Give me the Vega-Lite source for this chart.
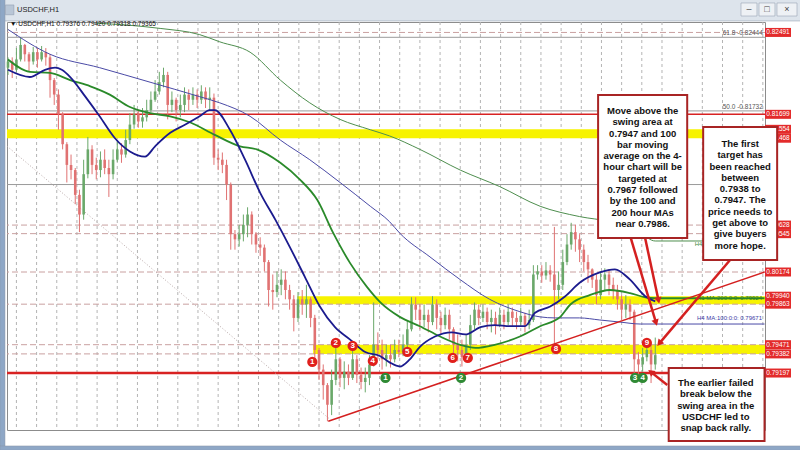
{
"$schema":"https://vega.github.io/schema/vega-lite/v6.json",
"width":758,"height":408,
"autosize":{"type":"none"},
"padding":{"left":7,"top":22,"right":35,"bottom":20},
"background":"white",
"config":{"view":{"stroke":"#8c8c8c","strokeWidth":1},"font":"Liberation Sans"},
"datasets":{
"candles":[
{"t":0,"o":0.8215,"h":0.8225,"l":0.8208,"c":0.8221},{"t":5,"o":0.8221,"h":0.8225,"l":0.8205,"c":0.8213},{"t":10,"o":0.8213,"h":0.8234,"l":0.8211,"c":0.8223},{"t":15,"o":0.8223,"h":0.8244,"l":0.8221,"c":0.8237},{"t":20,"o":0.8237,"h":0.8238,"l":0.8221,"c":0.8228},{"t":25,"o":0.8228,"h":0.823,"l":0.8211,"c":0.8221},{"t":30,"o":0.8221,"h":0.8235,"l":0.8218,"c":0.823},{"t":35,"o":0.823,"h":0.8234,"l":0.8215,"c":0.8223},{"t":40,"o":0.8223,"h":0.8236,"l":0.8221,"c":0.823},{"t":45,"o":0.823,"h":0.8234,"l":0.8217,"c":0.8225},
{"t":50,"o":0.8225,"h":0.8228,"l":0.8186,"c":0.8203},{"t":55,"o":0.8203,"h":0.8205,"l":0.8179,"c":0.8189},{"t":60,"o":0.8189,"h":0.8194,"l":0.8155,"c":0.817},{"t":65,"o":0.817,"h":0.8172,"l":0.8136,"c":0.8141},{"t":70,"o":0.8141,"h":0.8143,"l":0.8104,"c":0.8121},{"t":75,"o":0.8121,"h":0.8131,"l":0.8107,"c":0.8116},{"t":80,"o":0.8116,"h":0.8118,"l":0.8083,"c":0.8092},{"t":85,"o":0.8092,"h":0.8097,"l":0.8056,"c":0.8073},{"t":90,"o":0.8073,"h":0.8126,"l":0.8068,"c":0.8112},{"t":95,"o":0.8112,"h":0.8148,"l":0.8108,"c":0.8136},
{"t":100,"o":0.8136,"h":0.814,"l":0.8112,"c":0.8121},{"t":105,"o":0.8121,"h":0.8128,"l":0.8107,"c":0.8116},{"t":110,"o":0.8116,"h":0.8134,"l":0.8109,"c":0.8126},{"t":115,"o":0.8126,"h":0.8136,"l":0.8112,"c":0.8118},{"t":120,"o":0.8118,"h":0.8126,"l":0.809,"c":0.8112},{"t":125,"o":0.8112,"h":0.8136,"l":0.8107,"c":0.8126},{"t":130,"o":0.8126,"h":0.8145,"l":0.8124,"c":0.8136},{"t":135,"o":0.8136,"h":0.8142,"l":0.8123,"c":0.8131},{"t":140,"o":0.8131,"h":0.8155,"l":0.8128,"c":0.8145},{"t":145,"o":0.8145,"h":0.8171,"l":0.8141,"c":0.816},
{"t":150,"o":0.816,"h":0.8179,"l":0.8156,"c":0.817},{"t":155,"o":0.817,"h":0.8174,"l":0.8157,"c":0.8163},{"t":160,"o":0.8163,"h":0.8176,"l":0.8157,"c":0.8167},{"t":165,"o":0.8167,"h":0.8184,"l":0.8163,"c":0.8174},{"t":170,"o":0.8174,"h":0.8192,"l":0.8172,"c":0.8184},{"t":175,"o":0.8184,"h":0.8203,"l":0.8182,"c":0.8192},{"t":180,"o":0.8192,"h":0.8211,"l":0.8189,"c":0.8201},{"t":185,"o":0.8201,"h":0.8215,"l":0.8196,"c":0.8208},{"t":190,"o":0.8208,"h":0.8211,"l":0.8165,"c":0.8179},{"t":195,"o":0.8179,"h":0.8192,"l":0.8172,"c":0.8184},
{"t":200,"o":0.8184,"h":0.8186,"l":0.8163,"c":0.8174},{"t":205,"o":0.8174,"h":0.8189,"l":0.8167,"c":0.8179},{"t":210,"o":0.8179,"h":0.8196,"l":0.8172,"c":0.8189},{"t":215,"o":0.8189,"h":0.8194,"l":0.8174,"c":0.8184},{"t":220,"o":0.8184,"h":0.8196,"l":0.8179,"c":0.8189},{"t":225,"o":0.8189,"h":0.8194,"l":0.8176,"c":0.8184},{"t":230,"o":0.8184,"h":0.8198,"l":0.818,"c":0.8192},{"t":235,"o":0.8192,"h":0.8196,"l":0.8176,"c":0.8184},{"t":240,"o":0.8184,"h":0.8196,"l":0.8174,"c":0.8186},{"t":245,"o":0.8186,"h":0.819,"l":0.8121,"c":0.8128},
{"t":250,"o":0.8128,"h":0.8136,"l":0.8116,"c":0.8126},{"t":255,"o":0.8126,"h":0.8133,"l":0.8113,"c":0.8121},{"t":260,"o":0.8121,"h":0.8126,"l":0.8087,"c":0.8102},{"t":265,"o":0.8102,"h":0.8104,"l":0.8039,"c":0.8054},{"t":270,"o":0.8054,"h":0.8058,"l":0.8039,"c":0.8049},{"t":275,"o":0.8049,"h":0.8063,"l":0.8042,"c":0.8054},{"t":280,"o":0.8054,"h":0.8073,"l":0.8047,"c":0.8063},{"t":285,"o":0.8063,"h":0.808,"l":0.8051,"c":0.8073},{"t":290,"o":0.8073,"h":0.8076,"l":0.8044,"c":0.8054},{"t":295,"o":0.8054,"h":0.8056,"l":0.8036,"c":0.8044},
{"t":300,"o":0.8044,"h":0.8051,"l":0.8033,"c":0.8041},{"t":305,"o":0.8041,"h":0.8044,"l":0.8018,"c":0.8027},{"t":310,"o":0.8027,"h":0.8029,"l":0.7984,"c":0.8},{"t":315,"o":0.8,"h":0.8015,"l":0.7981,"c":0.7998},{"t":320,"o":0.7998,"h":0.8018,"l":0.7993,"c":0.8005},{"t":325,"o":0.8005,"h":0.802,"l":0.7995,"c":0.801},{"t":330,"o":0.801,"h":0.8018,"l":0.7991,"c":0.8},{"t":335,"o":0.8,"h":0.8005,"l":0.7981,"c":0.7991},{"t":340,"o":0.7991,"h":0.7995,"l":0.796,"c":0.7973},{"t":345,"o":0.7973,"h":0.7998,"l":0.7969,"c":0.7991},
{"t":350,"o":0.7991,"h":0.8,"l":0.7976,"c":0.7986},{"t":355,"o":0.7986,"h":0.8005,"l":0.7973,"c":0.7991},{"t":360,"o":0.7991,"h":0.7993,"l":0.7964,"c":0.7973},{"t":365,"o":0.7973,"h":0.7976,"l":0.7933,"c":0.7942},{"t":370,"o":0.7942,"h":0.7944,"l":0.7913,"c":0.7923},{"t":375,"o":0.7923,"h":0.7928,"l":0.7894,"c":0.7908},{"t":380,"o":0.7908,"h":0.791,"l":0.7873,"c":0.7889},{"t":385,"o":0.7889,"h":0.7923,"l":0.7879,"c":0.7913},{"t":390,"o":0.7913,"h":0.7949,"l":0.7908,"c":0.7933},{"t":395,"o":0.7933,"h":0.7935,"l":0.7906,"c":0.7915},
{"t":400,"o":0.7915,"h":0.7931,"l":0.7904,"c":0.7921},{"t":405,"o":0.7921,"h":0.7928,"l":0.7908,"c":0.7915},{"t":410,"o":0.7915,"h":0.7949,"l":0.7913,"c":0.7933},{"t":415,"o":0.7933,"h":0.7937,"l":0.791,"c":0.7918},{"t":420,"o":0.7918,"h":0.7925,"l":0.7904,"c":0.7911},{"t":425,"o":0.7911,"h":0.7925,"l":0.7901,"c":0.7915},{"t":430,"o":0.7915,"h":0.7937,"l":0.7908,"c":0.7928},{"t":435,"o":0.7928,"h":0.7988,"l":0.7926,"c":0.7947},{"t":440,"o":0.7947,"h":0.7959,"l":0.7933,"c":0.7942},{"t":445,"o":0.7942,"h":0.7952,"l":0.7923,"c":0.7933},
{"t":450,"o":0.7933,"h":0.7947,"l":0.7926,"c":0.7937},{"t":455,"o":0.7937,"h":0.7947,"l":0.7925,"c":0.7933},{"t":460,"o":0.7933,"h":0.7952,"l":0.793,"c":0.7942},{"t":465,"o":0.7942,"h":0.7952,"l":0.7935,"c":0.794},{"t":470,"o":0.794,"h":0.7957,"l":0.7936,"c":0.7947},{"t":475,"o":0.7947,"h":0.7971,"l":0.794,"c":0.7962},{"t":480,"o":0.7962,"h":0.7993,"l":0.796,"c":0.7986},{"t":485,"o":0.7986,"h":0.7993,"l":0.7971,"c":0.7981},{"t":490,"o":0.7981,"h":0.7986,"l":0.7962,"c":0.7971},{"t":495,"o":0.7971,"h":0.7986,"l":0.7964,"c":0.7976},
{"t":500,"o":0.7976,"h":0.7981,"l":0.7959,"c":0.7969},{"t":505,"o":0.7969,"h":0.7994,"l":0.7966,"c":0.7986},{"t":510,"o":0.7986,"h":0.7991,"l":0.7962,"c":0.7973},{"t":515,"o":0.7973,"h":0.7979,"l":0.7957,"c":0.7966},{"t":520,"o":0.7966,"h":0.7983,"l":0.7962,"c":0.7976},{"t":525,"o":0.7976,"h":0.7981,"l":0.7952,"c":0.7962},{"t":530,"o":0.7962,"h":0.7964,"l":0.7937,"c":0.7947},{"t":535,"o":0.7947,"h":0.7957,"l":0.7931,"c":0.7942},{"t":540,"o":0.7942,"h":0.7952,"l":0.7926,"c":0.7935},{"t":545,"o":0.7935,"h":0.7957,"l":0.7931,"c":0.7947},
{"t":550,"o":0.7947,"h":0.7976,"l":0.7942,"c":0.7966},{"t":555,"o":0.7966,"h":0.7988,"l":0.7962,"c":0.7981},{"t":560,"o":0.7981,"h":0.7986,"l":0.7966,"c":0.7973},{"t":565,"o":0.7973,"h":0.7986,"l":0.7969,"c":0.7979},{"t":570,"o":0.7979,"h":0.7983,"l":0.7962,"c":0.7969},{"t":575,"o":0.7969,"h":0.7981,"l":0.7959,"c":0.7973},{"t":580,"o":0.7973,"h":0.7979,"l":0.7957,"c":0.7966},{"t":585,"o":0.7966,"h":0.7983,"l":0.7964,"c":0.7976},{"t":590,"o":0.7976,"h":0.7981,"l":0.7962,"c":0.7969},{"t":595,"o":0.7969,"h":0.7986,"l":0.7966,"c":0.7979},
{"t":600,"o":0.7979,"h":0.7983,"l":0.7965,"c":0.7973},{"t":605,"o":0.7973,"h":0.7979,"l":0.7962,"c":0.7969},{"t":610,"o":0.7969,"h":0.7983,"l":0.7965,"c":0.7975},{"t":615,"o":0.7975,"h":0.7978,"l":0.7959,"c":0.7966},{"t":620,"o":0.7966,"h":0.7981,"l":0.7962,"c":0.7971},{"t":625,"o":0.7971,"h":0.8024,"l":0.7969,"c":0.8015},{"t":630,"o":0.8015,"h":0.8024,"l":0.801,"c":0.8018},{"t":635,"o":0.8018,"h":0.8024,"l":0.8007,"c":0.8014},{"t":640,"o":0.8014,"h":0.8027,"l":0.801,"c":0.8019},{"t":645,"o":0.8019,"h":0.8024,"l":0.8008,"c":0.8015},
{"t":650,"o":0.8015,"h":0.8061,"l":0.7942,"c":0.8},{"t":655,"o":0.8,"h":0.8018,"l":0.7991,"c":0.8005},{"t":660,"o":0.8005,"h":0.8039,"l":0.8,"c":0.8027},{"t":665,"o":0.8027,"h":0.8054,"l":0.8024,"c":0.8044},{"t":670,"o":0.8044,"h":0.8065,"l":0.8039,"c":0.8056},{"t":675,"o":0.8056,"h":0.8063,"l":0.8037,"c":0.8049},{"t":680,"o":0.8049,"h":0.8054,"l":0.8027,"c":0.8039},{"t":685,"o":0.8039,"h":0.8044,"l":0.8018,"c":0.8027},{"t":690,"o":0.8027,"h":0.8034,"l":0.8007,"c":0.802},{"t":695,"o":0.802,"h":0.8021,"l":0.8002,"c":0.801},
{"t":700,"o":0.801,"h":0.8015,"l":0.7986,"c":0.7995},{"t":705,"o":0.7995,"h":0.8018,"l":0.7991,"c":0.801},{"t":710,"o":0.801,"h":0.8021,"l":0.8,"c":0.8015},{"t":715,"o":0.8015,"h":0.802,"l":0.7995,"c":0.8005},{"t":720,"o":0.8005,"h":0.8012,"l":0.7991,"c":0.8},{"t":725,"o":0.8,"h":0.8005,"l":0.7981,"c":0.7991},{"t":730,"o":0.7991,"h":0.7995,"l":0.7971,"c":0.7981},{"t":735,"o":0.7981,"h":0.7995,"l":0.7973,"c":0.7986},{"t":740,"o":0.7986,"h":0.7991,"l":0.7971,"c":0.7979},{"t":745,"o":0.7979,"h":0.7981,"l":0.7918,"c":0.7933},
{"t":750,"o":0.7933,"h":0.794,"l":0.7918,"c":0.7928},{"t":755,"o":0.7928,"h":0.7944,"l":0.7921,"c":0.7935},{"t":760,"o":0.7935,"h":0.7952,"l":0.7931,"c":0.7942},{"t":765,"o":0.7942,"h":0.7947,"l":0.791,"c":0.7928},{"t":770,"o":0.7928,"h":0.7954,"l":0.7923,"c":0.7937}
],
"ma":[
{"s":"h1_100","t":0,"p":0.8213},{"s":"h1_100","t":26,"p":0.8206},{"s":"h1_100","t":44,"p":0.8213},{"s":"h1_100","t":56,"p":0.8215},{"s":"h1_100","t":64,"p":0.8213},{"s":"h1_100","t":74,"p":0.8206},{"s":"h1_100","t":92,"p":0.8187},{"s":"h1_100","t":109,"p":0.8168},{"s":"h1_100","t":127,"p":0.8147},{"s":"h1_100","t":145,"p":0.8134},{"s":"h1_100","t":163,"p":0.8129},{"s":"h1_100","t":175,"p":0.8139},{"s":"h1_100","t":193,"p":0.8152},{"s":"h1_100","t":211,"p":0.816},{"s":"h1_100","t":228,"p":0.8168},{"s":"h1_100","t":240,"p":0.8174},{"s":"h1_100","t":246,"p":0.8174},{"s":"h1_100","t":264,"p":0.8155},{"s":"h1_100","t":282,"p":0.8126},{"s":"h1_100","t":300,"p":0.8094},{"s":"h1_100","t":318,"p":0.8068},{"s":"h1_100","t":335,"p":0.8042},{"s":"h1_100","t":353,"p":0.8013},{"s":"h1_100","t":371,"p":0.7984},{"s":"h1_100","t":389,"p":0.7964},{"s":"h1_100","t":407,"p":0.7952},{"s":"h1_100","t":425,"p":0.794},{"s":"h1_100","t":443,"p":0.7936},{"s":"h1_100","t":454,"p":0.793},{"s":"h1_100","t":466,"p":0.7926},{"s":"h1_100","t":478,"p":0.7933},{"s":"h1_100","t":490,"p":0.7945},{"s":"h1_100","t":508,"p":0.7955},{"s":"h1_100","t":528,"p":0.7959},{"s":"h1_100","t":544,"p":0.7957},{"s":"h1_100","t":562,"p":0.7964},{"s":"h1_100","t":579,"p":0.7966},{"s":"h1_100","t":597,"p":0.7965},{"s":"h1_100","t":615,"p":0.7965},{"s":"h1_100","t":627,"p":0.7978},{"s":"h1_100","t":645,"p":0.7984},{"s":"h1_100","t":663,"p":0.7994},{"s":"h1_100","t":680,"p":0.8007},{"s":"h1_100","t":704,"p":0.8017},{"s":"h1_100","t":722,"p":0.802},{"s":"h1_100","t":740,"p":0.801},{"s":"h1_100","t":758,"p":0.7994},{"s":"h1_100","t":770,"p":0.7989},
{"s":"h1_200","t":0,"p":0.8223},{"s":"h1_200","t":26,"p":0.8211},{"s":"h1_200","t":50,"p":0.821},{"s":"h1_200","t":74,"p":0.8203},{"s":"h1_200","t":98,"p":0.8197},{"s":"h1_200","t":121,"p":0.8189},{"s":"h1_200","t":145,"p":0.8177},{"s":"h1_200","t":169,"p":0.8171},{"s":"h1_200","t":193,"p":0.8168},{"s":"h1_200","t":217,"p":0.8162},{"s":"h1_200","t":246,"p":0.815},{"s":"h1_200","t":276,"p":0.8139},{"s":"h1_200","t":296,"p":0.8136},{"s":"h1_200","t":324,"p":0.8123},{"s":"h1_200","t":347,"p":0.8107},{"s":"h1_200","t":368,"p":0.8087},{"s":"h1_200","t":387,"p":0.8055},{"s":"h1_200","t":407,"p":0.8026},{"s":"h1_200","t":427,"p":0.8003},{"s":"h1_200","t":443,"p":0.7988},{"s":"h1_200","t":466,"p":0.7974},{"s":"h1_200","t":490,"p":0.7965},{"s":"h1_200","t":514,"p":0.7955},{"s":"h1_200","t":538,"p":0.7947},{"s":"h1_200","t":556,"p":0.7944},{"s":"h1_200","t":579,"p":0.7947},{"s":"h1_200","t":609,"p":0.7955},{"s":"h1_200","t":633,"p":0.7965},{"s":"h1_200","t":657,"p":0.7974},{"s":"h1_200","t":669,"p":0.7986},{"s":"h1_200","t":692,"p":0.7995},{"s":"h1_200","t":716,"p":0.8},{"s":"h1_200","t":740,"p":0.7997},{"s":"h1_200","t":758,"p":0.7993},{"s":"h1_200","t":770,"p":0.7992},{"s":"h1_200","t":900,"p":0.7992},
{"s":"h4_100","t":0,"p":0.8252},{"s":"h4_100","t":50,"p":0.8228},{"s":"h4_100","t":109,"p":0.8215},{"s":"h4_100","t":169,"p":0.8201},{"s":"h4_100","t":228,"p":0.8187},{"s":"h4_100","t":252,"p":0.8181},{"s":"h4_100","t":288,"p":0.8168},{"s":"h4_100","t":324,"p":0.8145},{"s":"h4_100","t":359,"p":0.8126},{"s":"h4_100","t":395,"p":0.8104},{"s":"h4_100","t":431,"p":0.8081},{"s":"h4_100","t":454,"p":0.8066},{"s":"h4_100","t":466,"p":0.8055},{"s":"h4_100","t":502,"p":0.8032},{"s":"h4_100","t":538,"p":0.801},{"s":"h4_100","t":573,"p":0.7991},{"s":"h4_100","t":609,"p":0.7979},{"s":"h4_100","t":633,"p":0.7974},{"s":"h4_100","t":651,"p":0.7973},{"s":"h4_100","t":680,"p":0.7973},{"s":"h4_100","t":704,"p":0.7971},{"s":"h4_100","t":728,"p":0.7969},{"s":"h4_100","t":752,"p":0.79671},{"s":"h4_100","t":900,"p":0.79671},
{"s":"h4_200","t":105,"p":0.8258},{"s":"h4_200","t":145,"p":0.8256},{"s":"h4_200","t":181,"p":0.8253},{"s":"h4_200","t":228,"p":0.8247},{"s":"h4_200","t":252,"p":0.824},{"s":"h4_200","t":288,"p":0.823},{"s":"h4_200","t":324,"p":0.8203},{"s":"h4_200","t":359,"p":0.8181},{"s":"h4_200","t":395,"p":0.8165},{"s":"h4_200","t":431,"p":0.8155},{"s":"h4_200","t":454,"p":0.8149},{"s":"h4_200","t":490,"p":0.8136},{"s":"h4_200","t":538,"p":0.8116},{"s":"h4_200","t":585,"p":0.81},{"s":"h4_200","t":633,"p":0.8081},{"s":"h4_200","t":680,"p":0.8071},{"s":"h4_200","t":716,"p":0.8066},{"s":"h4_200","t":752,"p":0.8055},{"s":"h4_200","t":770,"p":0.80474},{"s":"h4_200","t":900,"p":0.80474}
],
"grid":[{"t":10},{"t":34},{"t":58},{"t":82},{"t":106},{"t":130},{"t":154},{"t":178},{"t":202},{"t":226},{"t":250},{"t":274},{"t":298},{"t":322},{"t":346},{"t":370},{"t":394},{"t":418},{"t":442},{"t":466},{"t":490},{"t":514},{"t":538},{"t":562},{"t":586},{"t":610},{"t":634},{"t":658},{"t":682},{"t":706},{"t":730},{"t":754},{"t":778},{"t":802},{"t":826},{"t":850},{"t":874},{"t":898}],
"dash":[{"p":0.82491},{"p":0.80628},{"p":0.80545},{"p":0.80174},{"p":0.79863},{"p":0.79471},{"p":0.79382}],
"fib":[{"p":0.82444,"txt":"61.8 -0.82444","lp":0.82486},{"p":0.81732,"txt":"50.0 -0.81732","lp":0.81773},{"p":0.8102}],
"bands":[{"from":-1.19,"lo":0.81468,"hi":0.81554},{"from":344,"lo":0.79863,"hi":0.7994},{"from":363,"lo":0.79382,"hi":0.79471}],
"tags":[{"p":0.82491},{"p":0.81699},{"p":0.81554},{"p":0.81468},{"p":0.80628},{"p":0.80545},{"p":0.80174},{"p":0.7994},{"p":0.79863},{"p":0.79471},{"p":0.79382},{"p":0.79197}],
"markers":[{"g":"r","n":"1","t":362,"p":0.79304},{"g":"r","n":"2","t":390,"p":0.79488},{"g":"r","n":"3","t":410,"p":0.79459},{"g":"r","n":"4","t":434,"p":0.79314},{"g":"r","n":"5","t":475,"p":0.79401},{"g":"r","n":"6","t":529,"p":0.79343},{"g":"r","n":"7","t":547,"p":0.79343},{"g":"r","n":"8","t":652,"p":0.7943},{"g":"r","n":"9","t":760,"p":0.79488},{"g":"g","n":"1","t":449,"p":0.79149},{"g":"g","n":"2","t":539,"p":0.79149},{"g":"g","n":"3","t":746,"p":0.79149},{"g":"g","n":"4","t":755,"p":0.79149}],
"chrome":[{"part":"bar","x1":-9.6,"x2":943,"y1":0.82602,"y2":0.8281},{"part":"edge","x1":-9.6,"x2":-3.6,"y1":0.7845,"y2":0.8281},{"part":"edge","x1":-9.6,"x2":943,"y1":0.7845,"y2":0.78492},{"part":"icon","x1":-3,"x2":7,"y1":0.82662,"y2":0.82757},{"part":"btn","x1":872,"x2":891,"y1":0.8265,"y2":0.82776},{"part":"btn","x1":893.4,"x2":912.4,"y1":0.8265,"y2":0.82776},{"part":"btn","x1":914.8,"x2":938.6,"y1":0.8265,"y2":0.82776}],
"btnglyph":[{"t":881.5,"p":0.82713,"g":"–"},{"t":902.9,"p":0.82713,"g":"□"},{"t":926.7,"p":0.82713,"g":"×"}],
"arrows":[{"t":741,"p":0.805,"t2":770.5,"p2":0.79694},{"t":758,"p":0.805,"t2":773.6,"p2":0.7991},{"t":859,"p":0.8029,"t2":775.6,"p2":0.79491},{"t":784.3,"p":0.79082,"t2":765.7,"p2":0.79201}],
"boxes":[
{"x1":702,"x2":808,"y1":0.81886,"y2":0.80503,"tx":755,"ty":0.8178,"txt":["Move above the","swing area at","0.7947 and 100","bar moving","average on the 4-","hour chart will be","targeted at","0.7967 followed","by the 100 and","200 hour MAs","near 0.7986."]},
{"x1":827,"x2":915,"y1":0.81577,"y2":0.80291,"tx":871,"ty":0.81461,"txt":["The first","target has","been reached","between","0.7938 to","0.7947. The","price needs to","get above to","give buyers","more hope."]},
{"x1":786,"x2":900,"y1":0.79246,"y2":0.7854,"tx":842,"ty":0.79149,"txt":["The earlier failed","break below the","swing area in the","USDCHF led to","snap back rally."]}
]
},
"layer":[
{"data":{"name":"chrome"},"mark":{"type":"rect","strokeWidth":0.5,"stroke":"#8a97a8"},
 "encoding":{"x":{"field":"x1","type":"quantitative","axis":null},"x2":{"field":"x2"},"y":{"field":"y1","type":"quantitative","axis":null},"y2":{"field":"y2"},
 "color":{"field":"part","type":"nominal","legend":null,"scale":{"domain":["bar","edge","icon","btn"],"range":["#dde4ec","#8ea7c6","#b9c6d6","#eef1f5"]}}}},
{"data":{"name":"btnglyph"},"mark":{"type":"text","align":"center","baseline":"middle","fontSize":9,"color":"#444444"},
 "encoding":{"x":{"field":"t","type":"quantitative","axis":null},"y":{"field":"p","type":"quantitative","axis":null},"text":{"field":"g"}}},
{"data":{"values":[{"t":10.7,"p":0.82708,"txt":"USDCHF,H1"}]},"mark":{"type":"text","align":"left","baseline":"middle","fontSize":7.5,"color":"#1e1e1e"},
 "encoding":{"x":{"field":"t","type":"quantitative","axis":null},"y":{"field":"p","type":"quantitative","axis":null},"text":{"field":"txt"}}},
{"data":{"name":"grid"},"mark":{"type":"rule","color":"#b4b4b4","strokeDash":[3,3],"strokeWidth":1},
 "encoding":{"x":{"field":"t","type":"quantitative","scale":{"domain":[-1.19,900.55],"nice":false,"zero":false,"padding":0},
  "axis":{"title":null,"values":[0,64,128,192,256,320,384,448,512,576,640,704,768],"labelExpr":"['9 Jun 2025','12 Jun 06:00','16 Jun 22:00','19 Jun 14:00','24 Jun 06:00','26 Jun 22:00','1 Jul 14:00','4 Jul 06:00','8 Jul 22:00','11 Jul 14:00','16 Jul 06:00','18 Jul 22:00','23 Jul 14:00'][datum.value/64]","labelAlign":"left","labelFontSize":6.5,"labelColor":"#333333","labelPadding":1,"tickSize":3,"tickColor":"#777777","domainColor":"#8c8c8c","grid":false,"labelOverlap":false,"labelFlush":false,"labelBound":false}}}},
{"data":{"name":"bands"},"mark":{"type":"rect","color":"#f7f300"},
 "encoding":{"x":{"field":"from","type":"quantitative","axis":null},"x2":{"datum":900.55},"y":{"field":"lo","type":"quantitative","axis":null},"y2":{"field":"hi"}}},
{"data":{"name":"dash"},"mark":{"type":"rule","color":"#c9a0a0","strokeDash":[6,3],"strokeWidth":1},
 "encoding":{"y":{"field":"p","type":"quantitative","axis":null}}},
{"data":{"name":"fib"},"mark":{"type":"rule","color":"#9a9a9a","strokeWidth":1},
 "encoding":{"y":{"field":"p","type":"quantitative","axis":null}}},
{"data":{"values":[{"p":0.81699}]},"mark":{"type":"rule","color":"#d82222","strokeWidth":1.5},
 "encoding":{"y":{"field":"p","type":"quantitative","axis":null}}},
{"data":{"values":[{"p":0.79197}]},"mark":{"type":"rule","color":"#d82222","strokeWidth":2.5},
 "encoding":{"y":{"field":"p","type":"quantitative","axis":null}}},
{"data":{"values":[{"t":-1,"p":0.8139,"t2":383,"p2":0.7875}]},"mark":{"type":"rule","color":"#b8a8a8","strokeDash":[1,2],"strokeWidth":1},
 "encoding":{"x":{"field":"t","type":"quantitative","axis":null},"y":{"field":"p","type":"quantitative","axis":null},"x2":{"field":"t2"},"y2":{"field":"p2"}}},
{"data":{"name":"candles"},"mark":{"type":"rule","strokeWidth":1},
 "encoding":{"x":{"field":"t","type":"quantitative","axis":null},
  "y":{"field":"l","type":"quantitative","scale":{"domain":[0.78646,0.82592],"nice":false,"zero":false,"padding":0},
   "axis":{"title":null,"orient":"right","values":[0.8247,0.82205,0.8194,0.81675,0.8141,0.81145,0.8088,0.80615,0.8035,0.80085,0.7982,0.79555,0.7929,0.79025,0.7876],"format":".5f","labelFontSize":6.5,"labelColor":"#333333","labelPadding":1,"tickSize":3,"tickColor":"#777777","domainColor":"#8c8c8c","grid":false,"labelOverlap":false,"labelBound":false,"labelFlush":false}},
  "y2":{"field":"h"},
  "color":{"condition":{"test":"datum.c >= datum.o","value":"#6aa86a"},"value":"#e07272"}}},
{"data":{"name":"candles"},"mark":{"type":"bar","size":2.6},
 "encoding":{"x":{"field":"t","type":"quantitative","axis":null},"y":{"field":"o","type":"quantitative","axis":null},"y2":{"field":"c"},
  "color":{"condition":{"test":"datum.c >= datum.o","value":"#6aa86a"},"value":"#e07272"}}},
{"data":{"name":"ma"},"transform":[{"filter":"datum.s == 'h4_200'"}],"mark":{"type":"line","color":"#4e8e4e","strokeWidth":1,"interpolate":"monotone"},
 "encoding":{"x":{"field":"t","type":"quantitative","axis":null},"y":{"field":"p","type":"quantitative","axis":null}}},
{"data":{"name":"ma"},"transform":[{"filter":"datum.s == 'h4_100'"}],"mark":{"type":"line","color":"#4a4aa6","strokeWidth":1,"interpolate":"monotone"},
 "encoding":{"x":{"field":"t","type":"quantitative","axis":null},"y":{"field":"p","type":"quantitative","axis":null}}},
{"data":{"name":"ma"},"transform":[{"filter":"datum.s == 'h1_200'"}],"mark":{"type":"line","color":"#2a8a2a","strokeWidth":1.8,"interpolate":"monotone"},
 "encoding":{"x":{"field":"t","type":"quantitative","axis":null},"y":{"field":"p","type":"quantitative","axis":null}}},
{"data":{"name":"ma"},"transform":[{"filter":"datum.s == 'h1_100'"}],"mark":{"type":"line","color":"#1b1b8e","strokeWidth":1.8,"interpolate":"monotone"},
 "encoding":{"x":{"field":"t","type":"quantitative","axis":null},"y":{"field":"p","type":"quantitative","axis":null}}},
{"data":{"values":[{"t":381,"p":0.7873,"t2":900,"p2":0.80174}]},"mark":{"type":"rule","color":"#d42020","strokeWidth":1.5},
 "encoding":{"x":{"field":"t","type":"quantitative","axis":null},"y":{"field":"p","type":"quantitative","axis":null},"x2":{"field":"t2"},"y2":{"field":"p2"}}},
{"data":{"name":"markers"},"transform":[{"filter":"datum.g == 'r'"}],"mark":{"type":"circle","size":105,"opacity":1,"color":"#e0201c"},
 "encoding":{"x":{"field":"t","type":"quantitative","axis":null},"y":{"field":"p","type":"quantitative","axis":null}}},
{"data":{"name":"markers"},"transform":[{"filter":"datum.g == 'g'"}],"mark":{"type":"circle","size":105,"opacity":1,"color":"#2f8a34"},
 "encoding":{"x":{"field":"t","type":"quantitative","axis":null},"y":{"field":"p","type":"quantitative","axis":null}}},
{"data":{"name":"markers"},"mark":{"type":"text","fontSize":8,"fontWeight":"bold","color":"white","align":"center","baseline":"middle"},
 "encoding":{"x":{"field":"t","type":"quantitative","axis":null},"y":{"field":"p","type":"quantitative","axis":null},"text":{"field":"n"}}},
{"data":{"name":"fib"},"transform":[{"filter":"isValid(datum.txt)"}],"mark":{"type":"text","fontSize":6.5,"color":"#555555","align":"right","baseline":"middle"},
 "encoding":{"x":{"datum":898,"type":"quantitative"},"y":{"field":"lp","type":"quantitative","axis":null},"text":{"field":"txt"}}},
{"data":{"values":[{"t":897,"p":0.79727,"txt":"H4 MA:100:0:0: 0.79671"}]},"mark":{"type":"text","fontSize":6,"color":"#3a3aa6","align":"right","baseline":"middle"},
 "encoding":{"x":{"field":"t","type":"quantitative","axis":null},"y":{"field":"p","type":"quantitative","axis":null},"text":{"field":"txt"}}},
{"data":{"values":[{"t":897,"p":0.79923,"txt":"H1 MA:200:0:0: 0.79924"}]},"mark":{"type":"text","fontSize":6,"color":"#2a7a2a","align":"right","baseline":"middle"},
 "encoding":{"x":{"field":"t","type":"quantitative","axis":null},"y":{"field":"p","type":"quantitative","axis":null},"text":{"field":"txt"}}},
{"data":{"values":[{"t":817,"p":0.80445,"txt":"H4"}]},"mark":{"type":"text","fontSize":6,"color":"#3f8a3f","align":"left","baseline":"middle"},
 "encoding":{"x":{"field":"t","type":"quantitative","axis":null},"y":{"field":"p","type":"quantitative","axis":null},"text":{"field":"txt"}}},
{"data":{"values":[{"t":2.4,"p":0.8257,"txt":"▼ USDCHF,H1  0.79376 0.79420 0.79318 0.79365"}]},"mark":{"type":"text","fontSize":6.5,"color":"#111111","align":"left","baseline":"middle"},
 "encoding":{"x":{"field":"t","type":"quantitative","axis":null},"y":{"field":"p","type":"quantitative","axis":null},"text":{"field":"txt"}}},
{"data":{"name":"tags"},"mark":{"type":"tick","orient":"horizontal","size":26,"thickness":9,"color":"#e32b2b","opacity":1},
 "encoding":{"x":{"datum":916,"type":"quantitative"},"y":{"field":"p","type":"quantitative","axis":null}}},
{"data":{"name":"tags"},"mark":{"type":"text","fontSize":6.5,"color":"white","align":"center","baseline":"middle"},
 "encoding":{"x":{"datum":916,"type":"quantitative"},"y":{"field":"p","type":"quantitative","axis":null},"text":{"field":"p","type":"quantitative","format":".5f"}}},
{"data":{"name":"arrows"},"mark":{"type":"rule","color":"#d42020","strokeWidth":2.5},
 "encoding":{"x":{"field":"t","type":"quantitative","axis":null},"y":{"field":"p","type":"quantitative","axis":null},"x2":{"field":"t2"},"y2":{"field":"p2"}}},
{"data":{"values":[{"t":770.5,"p":0.79694}]},"mark":{"type":"point","shape":"triangle","angle":163,"size":55,"filled":true,"color":"#d42020","opacity":1},
 "encoding":{"x":{"field":"t","type":"quantitative","axis":null},"y":{"field":"p","type":"quantitative","axis":null}}},
{"data":{"values":[{"t":773.6,"p":0.7991}]},"mark":{"type":"point","shape":"triangle","angle":168,"size":55,"filled":true,"color":"#d42020","opacity":1},
 "encoding":{"x":{"field":"t","type":"quantitative","axis":null},"y":{"field":"p","type":"quantitative","axis":null}}},
{"data":{"values":[{"t":775.6,"p":0.79491}]},"mark":{"type":"point","shape":"triangle","angle":220,"size":55,"filled":true,"color":"#d42020","opacity":1},
 "encoding":{"x":{"field":"t","type":"quantitative","axis":null},"y":{"field":"p","type":"quantitative","axis":null}}},
{"data":{"values":[{"t":765.7,"p":0.79201}]},"mark":{"type":"point","shape":"triangle","angle":308,"size":55,"filled":true,"color":"#d42020","opacity":1},
 "encoding":{"x":{"field":"t","type":"quantitative","axis":null},"y":{"field":"p","type":"quantitative","axis":null}}},
{"data":{"name":"boxes"},"mark":{"type":"rect","fill":"white","stroke":"#a82424","strokeWidth":2},
 "encoding":{"x":{"field":"x1","type":"quantitative","axis":null},"x2":{"field":"x2"},"y":{"field":"y1","type":"quantitative","axis":null},"y2":{"field":"y2"}}},
{"data":{"name":"boxes"},"mark":{"type":"text","fontSize":9.5,"fontWeight":"bold","color":"#111111","align":"center","baseline":"top","lineHeight":11.3},
 "encoding":{"x":{"field":"tx","type":"quantitative","axis":null},"y":{"field":"ty","type":"quantitative","axis":null},"text":{"field":"txt"}}}
]
}
